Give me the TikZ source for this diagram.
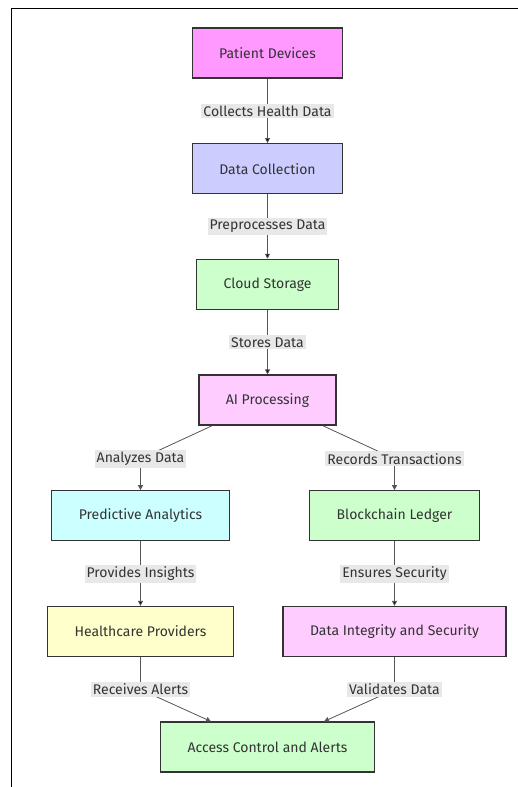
\documentclass[tikz,border=0pt]{standalone}
\usepackage{fontspec}
\setmainfont{Fira Sans}
\usetikzlibrary{positioning,arrows.meta}

\definecolor{ink}{HTML}{333333}
\definecolor{wire}{HTML}{555555}
\definecolor{lblbg}{HTML}{E8E8E8}
\definecolor{pinkA}{HTML}{FF99FF}
\definecolor{blueA}{HTML}{CCCCFF}
\definecolor{greenA}{HTML}{CCFFCC}
\definecolor{pinkB}{HTML}{FFCCFF}
\definecolor{cyanA}{HTML}{CCFFFF}
\definecolor{yellowA}{HTML}{FFFFCC}

\begin{document}
\begin{tikzpicture}[x=1pt,y=1pt,node distance=115.7pt,on grid,
	>={Triangle[length=5pt,width=5pt]},
	box/.style={draw=ink,line width=1.3pt,minimum height=50pt,inner xsep=27pt,
		text=ink,font=\fontsize{14}{16}\selectfont},
	lbl/.style={fill=lblbg,text=ink,inner sep=2pt,font=\fontsize{14}{16}\selectfont},
	wires/.style={draw=wire,line width=0.8pt}]

	% frame of the screenshot
	\useasboundingbox (0,0) rectangle (518,-787);
	\draw[line width=1pt] (11,-787) -- (11,-8) -- (518,-8);

	\node[box,fill=pinkA] (pd) at (267.5,-53) {Patient Devices};
	\node[box,fill=blueA] (dc) [below=of pd] {Data Collection};
	\node[box,fill=greenA] (cs) [below=of dc] {Cloud Storage};
	\node[box,fill=pinkB] (ai) [below=of cs] {AI Processing};

	\node[box,fill=cyanA] (pa) [below left=115.7pt and 127pt of ai] {Predictive Analytics};
	\node[box,fill=greenA] (bl) [below right=115.7pt and 127pt of ai] {Blockchain Ledger};

	\node[box,fill=yellowA] (hp) [below=of pa] {Healthcare Providers};
	\node[box,fill=pinkB] (di) [below=of bl] {Data Integrity and Security};

	\node[box,fill=greenA] (ac) [below=347pt of ai] {Access Control and Alerts};

	% label points of the bent edges
	\coordinate[above=57pt of pa] (an);
	\coordinate[above=57pt of bl] (rt);
	\coordinate[below=58pt of hp] (ra);
	\coordinate[below=58pt of di] (vd);

	\path[wires,->]
		(pd) edge node[lbl] {Collects Health Data} (dc)
		(dc) edge node[lbl] {Preprocesses Data} (cs)
		(cs) edge node[lbl] {Stores Data} (ai)
		(pa) edge node[lbl] {Provides Insights} (hp)
		(bl) edge node[lbl] {Ensures Security} (di);

	\draw[wires,->] (ai) -- (an) -- node[lbl,pos=0] {Analyzes Data} (pa);
	\draw[wires,->] (ai) -- (rt) -- node[lbl,pos=0] {Records Transactions} (bl);
	\draw[wires,->] (hp) -- (ra) -- node[lbl,pos=0] {Receives Alerts} (ac);
	\draw[wires,->] (di) -- (vd) -- node[lbl,pos=0] {Validates Data} (ac);

\end{tikzpicture}
\end{document}
